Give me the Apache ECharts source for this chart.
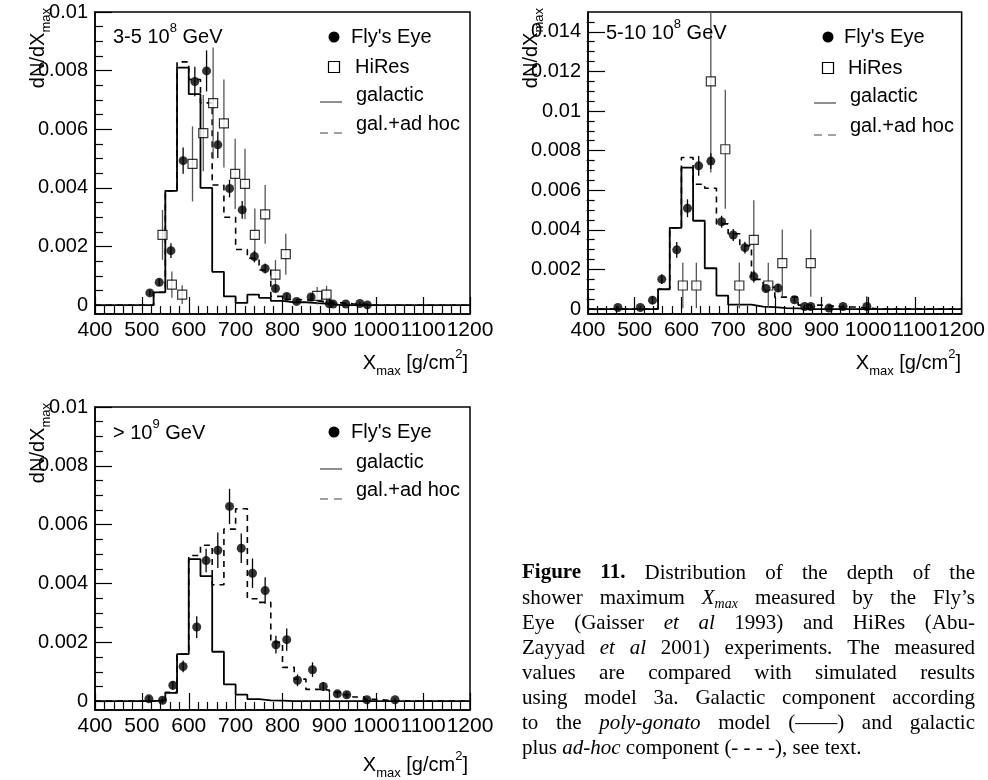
<!DOCTYPE html>
<html>
<head>
<meta charset="utf-8">
<script src="https://cdn.jsdelivr.net/npm/echarts@6/dist/echarts.min.js"></script>
<style>
  html, body { margin: 0; padding: 0; background: #fff; }
  #chart { width: 988px; height: 780px; }
</style>
</head>
<body>
<div id="chart"></div>
<script>
// ---- Simulated Xmax histograms: lower bin edges (g/cm^2), 25 g/cm^2 wide ----
const binEdges = [400, 425, 450, 475, 500, 525, 550, 575, 600, 625, 650, 675, 700, 725, 750, 775,
                  800, 825, 850, 875, 900, 925, 950, 975, 1000, 1025, 1050, 1075, 1100, 1125, 1150, 1175];
const binUpper = 1200;

// 3-5 10^8 GeV
const p1Galactic = [0, 0, 0, 0, 0, 0.00044, 0.0039, 0.0081, 0.0072, 0.004, 0.00114, 0.0003, 0.00008, 0.00036, 0.00025, 0.00015,
                    0.0001, 0.0001, 0.00007, 0.00005, 0, 0, 0, 0, 0, 0, 0, 0, 0, 0, 0, 0];
const p1AdHoc    = [0, 0, 0, 0, 0, 0.00044, 0.0039, 0.0083, 0.0077, 0.0069, 0.0041, 0.003, 0.0019, 0.0016, 0.0012, 0.0003,
                    0.0002, 0.00018, 0.00015, 0.0001, 0.00008, 0.00005, 0.00003, 0, 0, 0, 0, 0, 0, 0, 0, 0];
const p1FlyX   = [517, 537, 562, 588, 613, 638, 662, 687, 714, 740, 763, 785, 809, 830, 861, 900, 908, 935, 965, 981];
const p1FlyY   = [0.00042, 0.00078, 0.00186, 0.00493, 0.00763, 0.00799, 0.00547, 0.00398, 0.00325, 0.00166,
                  0.00125, 0.00057, 0.0003, 0.00013, 0.00028, 0.00005, 0.00004, 0.00004, 0.00006, 0.00001];
const p1FlyErr = [0.0001, 0.00012, 0.00025, 0.00045, 0.0005, 0.0007, 0.00045, 0.0003, 0.0003, 0.0002,
                  0.00017, 0.00012, 0.0001, 0.00006, 0.0001, 0.00005, 0.00005, 0.00005, 0.00005, 0.00003];
const p1HiResX   = [544, 564, 586, 608, 631, 652, 675, 699, 720, 741, 763, 785, 807, 874, 894];
const p1HiResY   = [0.0024, 0.0007, 0.00036, 0.00482, 0.00587, 0.00689, 0.0062, 0.00448, 0.00414, 0.0024,
                    0.0031, 0.00104, 0.00174, 0.00032, 0.00036];
const p1HiResErr = [0.00085, 0.00045, 0.00032, 0.00128, 0.0013, 0.0019, 0.0015, 0.0012, 0.0012, 0.0009,
                    0.001, 0.0005, 0.0007, 0.0003, 0.0003];

// 5-10 10^8 GeV
const p2Galactic = [0, 0, 0, 0, 0, 0, 0.001, 0.0041, 0.00714, 0.00446, 0.00206, 0.00068, 0.00022, 0.00022, 0.00012, 0.0001,
                    0.00005, 0.00003, 0, 0, 0, 0, 0, 0, 0, 0, 0, 0, 0, 0, 0, 0];
const p2AdHoc    = [0, 0, 0, 0, 0, 0, 0.001, 0.0041, 0.00765, 0.0063, 0.0061, 0.0043, 0.0038, 0.0032, 0.0015, 0.0011,
                    0.0006, 0.0006, 0.0002, 0.0002, 0.00015, 0.0001, 0.0001, 0.00005, 0, 0, 0, 0, 0, 0, 0, 0];
const p2FlyX   = [464, 512, 538, 558, 590, 613, 637, 663, 686, 711, 736, 755, 781, 807, 842, 864, 877, 916, 946, 997];
const p2FlyY   = [0.00008, 0.00008, 0.00045, 0.00151, 0.00299, 0.00509, 0.00723, 0.00747, 0.00441, 0.00374,
                  0.0031, 0.00164, 0.00104, 0.00106, 0.00047, 0.00013, 0.00013, 0.00005, 0.00013, 0.00013];
const p2FlyErr = [0.00008, 0.0001, 0.0002, 0.00025, 0.0004, 0.00045, 0.0005, 0.0004, 0.0003, 0.0003,
                  0.0003, 0.0003, 0.0002, 0.0002, 0.00015, 0.0001, 0.0001, 0.00005, 0.0001, 0.0005];
const p2HiResX   = [603, 632, 663, 694, 724, 755, 786, 816, 877];
const p2HiResY   = [0.00119, 0.00119, 0.0115, 0.00807, 0.00119, 0.00349, 0.00119, 0.00232, 0.00232];
const p2HiResErr = [0.00115, 0.00115, 0.0046, 0.003, 0.00115, 0.002, 0.00115, 0.0017, 0.0017];

// > 10^9 GeV
const p3Galactic = [0, 0, 0, 0, 0, 0.00003, 0.00028, 0.0016, 0.00483, 0.00425, 0.00168, 0.00057, 0.00022, 0.00007, 0.00003, 0.00002,
                    0, 0, 0, 0, 0, 0, 0, 0, 0, 0, 0, 0, 0, 0, 0, 0];
const p3AdHoc    = [0, 0, 0, 0, 0, 0.00003, 0.0003, 0.0016, 0.00495, 0.0053, 0.00396, 0.00585, 0.00654, 0.00348, 0.00336, 0.002,
                    0.00115, 0.00075, 0.0004, 0.00038, 0.0003, 0.00022, 0.00014, 0.00006, 0.00003, 0, 0, 0, 0, 0, 0, 0];
const p3FlyX   = [515, 544, 566, 588, 617, 637, 662, 687, 712, 736, 763, 786, 809, 832, 864, 887, 917, 937, 980, 1040];
const p3FlyY   = [0.00008, 0.00003, 0.00054, 0.00118, 0.00252, 0.00478, 0.00513, 0.00662, 0.0052, 0.00435,
                  0.00376, 0.00192, 0.00209, 0.00071, 0.00107, 0.0005, 0.00025, 0.00022, 0.00005, 0.00005];
const p3FlyErr = [0.0001, 0.0001, 0.00015, 0.0002, 0.00037, 0.0004, 0.0006, 0.0006, 0.0005, 0.0005,
                  0.00045, 0.0003, 0.00038, 0.0002, 0.00025, 0.00015, 0.0001, 0.0001, 0.00005, 0.00005];

// Axis tick labels
const yTicksLow  = [0, 0.002, 0.004, 0.006, 0.008, 0.01];
const yTicksHigh = [0, 0.002, 0.004, 0.006, 0.008, 0.01, 0.012, 0.014];

// ---- Layout & styling ----
const SANS = '"Liberation Sans", Arial, Helvetica, sans-serif';
const SERIF = '"Liberation Serif", "Times New Roman", serif';
const FS = 20;

const panels = [
  { grid: { left: 95, top: 12, width: 375, height: 302 }, yMin: -0.0003, yMax: 0.01, yTicks: yTicksLow,
    gal: p1Galactic, adhoc: p1AdHoc, fly: [p1FlyX, p1FlyY, p1FlyErr], hires: [p1HiResX, p1HiResY, p1HiResErr] },
  { grid: { left: 588, top: 12, width: 375, height: 302 }, yMin: -0.00025, yMax: 0.015, yTicks: yTicksHigh,
    gal: p2Galactic, adhoc: p2AdHoc, fly: [p2FlyX, p2FlyY, p2FlyErr], hires: [p2HiResX, p2HiResY, p2HiResErr] },
  { grid: { left: 95, top: 407, width: 375, height: 303 }, yMin: -0.0003, yMax: 0.01, yTicks: yTicksLow,
    gal: p3Galactic, adhoc: p3AdHoc, fly: [p3FlyX, p3FlyY, p3FlyErr], hires: null }
];

function histData(vals) {
  const d = binEdges.map((e, i) => [e, vals[i]]);
  d.push([binUpper, vals[vals.length - 1]]);
  return d;
}
function fmtY(v) { return Math.abs(v) < 1e-12 ? '0' : String(parseFloat(v.toFixed(4))); }

function errorBars(xs, ys, es, color, xi, yi) {
  return {
    type: 'custom', xAxisIndex: xi, yAxisIndex: yi, z: 3, silent: true,
    data: xs.map((x, k) => [x, ys[k], es[k]]),
    encode: { x: 0, y: 1 },
    renderItem: function (params, api) {
      const x = api.value(0), y = api.value(1), e = api.value(2);
      const lo = api.coord([x, y - e]);
      const hi = api.coord([x, y + e]);
      const cs = params.coordSys;
      const top = Math.max(cs.y, hi[1]);
      const bot = Math.min(cs.y + cs.height, lo[1]);
      return { type: 'line', shape: { x1: lo[0], y1: bot, x2: lo[0], y2: top },
               style: { stroke: color, lineWidth: 1.3 } };
    }
  };
}

const grids = [], xAxes = [], yAxes = [], series = [];
panels.forEach((p, i) => {
  grids.push(Object.assign({ show: true, borderColor: '#000', borderWidth: 1.5, backgroundColor: 'transparent' }, p.grid));
  xAxes.push({
    gridIndex: i, type: 'value', min: 400, max: 1200, interval: 100,
    axisLine: { onZero: false, lineStyle: { color: '#000', width: 1.5 } },
    axisTick: { inside: true, length: 17, lineStyle: { color: '#000', width: 1.2 } },
    minorTick: { show: true, splitNumber: 5, length: 8, lineStyle: { color: '#000', width: 1.2 } },
    axisLabel: { color: '#000', fontFamily: SANS, fontSize: 21, margin: 6, showMinLabel: true, showMaxLabel: true,
                 hideOverlap: false, formatter: v => String(v) },
    splitLine: { show: false }
  });
  const minors = [];
  for (let v = 0.0005; v < p.yMax - 1e-9; v += 0.0005) {
    if (Math.abs(v / 0.002 - Math.round(v / 0.002)) > 1e-6) minors.push(+v.toFixed(4));
  }
  yAxes.push({
    gridIndex: i, type: 'value', min: p.yMin, max: p.yMax, position: 'left',
    axisLine: { onZero: false, lineStyle: { color: '#000', width: 1.5 } },
    axisTick: { inside: true, length: 17, customValues: p.yTicks, lineStyle: { color: '#000', width: 1.2 } },
    axisLabel: { customValues: p.yTicks, formatter: fmtY, color: '#000', fontFamily: SANS, fontSize: FS, margin: 7 },
    splitLine: { show: false }
  });
  yAxes.push({
    gridIndex: i, type: 'value', min: p.yMin, max: p.yMax, position: 'right', offset: -p.grid.width,
    axisLine: { show: false, onZero: false },
    axisTick: { inside: false, length: 8, customValues: minors, lineStyle: { color: '#000', width: 1.2 } },
    axisLabel: { show: false },
    splitLine: { show: false }
  });
  const yi = 2 * i;
  series.push({ type: 'line', xAxisIndex: i, yAxisIndex: yi, step: 'end', symbol: 'none', z: 2, silent: true,
                data: histData(p.adhoc), lineStyle: { color: '#000', width: 1.6, type: [6, 5] } });
  series.push({ type: 'line', xAxisIndex: i, yAxisIndex: yi, step: 'end', symbol: 'none', z: 2, silent: true,
                data: histData(p.gal), lineStyle: { color: '#000', width: 1.8 } });
  if (p.hires) {
    series.push(errorBars(p.hires[0], p.hires[1], p.hires[2], '#555', i, yi));
    series.push({ type: 'scatter', xAxisIndex: i, yAxisIndex: yi, z: 5, symbol: 'rect', symbolSize: 9,
                  data: p.hires[0].map((x, k) => [x, p.hires[1][k]]),
                  itemStyle: { color: '#fff', borderColor: '#000', borderWidth: 1.2 } });
  }
  series.push(errorBars(p.fly[0], p.fly[1], p.fly[2], '#000', i, yi));
  series.push({ type: 'scatter', xAxisIndex: i, yAxisIndex: yi, z: 6, symbol: 'circle', symbolSize: 9,
                data: p.fly[0].map((x, k) => [x, p.fly[1][k]]), itemStyle: { color: '#000' } });
});

// ---- Text decorations: titles, panel labels, legends, caption ----
const RICH = {
  t:   { fontSize: FS, fontFamily: SANS, lineHeight: 30, fill: '#000' },
  sub: { fontSize: 13, fontFamily: SANS, lineHeight: 13, verticalAlign: 'bottom', fill: '#000' },
  sup: { fontSize: 13, fontFamily: SANS, lineHeight: 13, verticalAlign: 'top', fill: '#000' }
};
function richText(x, y, text, align, rotation) {
  return { type: 'text', x: x, y: y, rotation: rotation || 0, silent: true, z: 10,
           style: { text: text, rich: RICH, align: align, verticalAlign: 'middle', fill: '#000' } };
}
function plainText(x, y, text) {
  return { type: 'text', x: x, y: y, silent: true, z: 10,
           style: { text: text, fontSize: FS, fontFamily: SANS, fill: '#000', align: 'left', verticalAlign: 'middle' } };
}

const elements = [];
const titlePos = [
  { yt: [38, 8], xt: [468, 363], label: [113, 37, '{t|3-5 10}{sup|8}{t| GeV}'] },
  { yt: [531, 8], xt: [961, 363], label: [606, 33, '{t|5-10 10}{sup|8}{t| GeV}'] },
  { yt: [38, 403], xt: [468, 765], label: [113, 433, '{t|> 10}{sup|9}{t| GeV}'] }
];
titlePos.forEach(tp => {
  elements.push(richText(tp.yt[0], tp.yt[1], '{t|dN/dX}{sub|max}', 'right', Math.PI / 2));
  elements.push(richText(tp.xt[0], tp.xt[1], '{t|X}{sub|max}{t| [g/cm}{sup|2}{t|]}', 'right'));
  elements.push(richText(tp.label[0], tp.label[1], tp.label[2], 'left'));
});

// Legends
const legends = [
  { mx: 334, rows: [['fly', 37, 351, "Fly's Eye"], ['hires', 67, 355, 'HiRes'], ['gal', 95, 356, 'galactic'], ['adhoc', 124, 356, 'gal.+ad hoc']] },
  { mx: 828, rows: [['fly', 37, 844, "Fly's Eye"], ['hires', 68, 848, 'HiRes'], ['gal', 96, 850, 'galactic'], ['adhoc', 126, 850, 'gal.+ad hoc']] },
  { mx: 334, rows: [['fly', 432, 351, "Fly's Eye"], ['gal', 462, 356, 'galactic'], ['adhoc', 490, 356, 'gal.+ad hoc']] }
];
legends.forEach(lg => {
  lg.rows.forEach(([kind, y, tx, label]) => {
    if (kind === 'fly') {
      elements.push({ type: 'circle', silent: true, z: 10, shape: { cx: lg.mx, cy: y, r: 5.5 }, style: { fill: '#000' } });
    } else if (kind === 'hires') {
      elements.push({ type: 'rect', silent: true, z: 10, shape: { x: lg.mx - 5.5, y: y - 5.5, width: 11, height: 11 },
                      style: { fill: '#fff', stroke: '#000', lineWidth: 1.2 } });
    } else if (kind === 'gal') {
      elements.push({ type: 'line', silent: true, z: 10, shape: { x1: lg.mx - 14, y1: y + 7, x2: lg.mx + 8, y2: y + 7 },
                      style: { stroke: '#444', lineWidth: 1.2 } });
    } else {
      elements.push({ type: 'line', silent: true, z: 10, shape: { x1: lg.mx - 14, y1: y + 9, x2: lg.mx + 8, y2: y + 9 },
                      style: { stroke: '#444', lineWidth: 1.2, lineDash: [8, 6] } });
    }
    elements.push(plainText(tx, y, label));
  });
});

// Caption, justified word by word
const CAP_L = 522, CAP_R = 975, CAP_TOP = 573, CAP_LEAD = 25, CAP_SIZE = 21, CAP_SUB = 14;
const captionRows = [
  '{b|Figure} {b|11.} Distribution of the depth of the',
  'shower maximum {i|X}{s|max} measured by the Fly\u2019s',
  'Eye (Gaisser {i|et} {i|al} 1993) and HiRes (Abu-',
  'Zayyad {i|et} {i|al} 2001) experiments. The measured',
  'values are compared with simulated results',
  'using model 3a. Galactic component according',
  'to the {i|poly-gonato} model (\u2014\u2014) and galactic',
  'plus {i|ad-hoc} component (- - - -), see text.'
];
const mctx = document.createElement('canvas').getContext('2d');
function pieceStyle(st) {
  return {
    fontSize: st === 's' ? CAP_SUB : CAP_SIZE,
    fontStyle: (st === 'i' || st === 's') ? 'italic' : 'normal',
    fontWeight: st === 'b' ? 'bold' : 'normal'
  };
}
function measure(st, t) {
  const s = pieceStyle(st);
  mctx.font = s.fontStyle + ' ' + s.fontWeight + ' ' + s.fontSize + 'px ' + SERIF;
  return mctx.measureText(t).width;
}
function parseWord(w) {
  const pieces = [];
  const re = /\{(\w)\|([^}]*)\}|([^{]+)/g;
  let m;
  while ((m = re.exec(w))) pieces.push(m[1] ? [m[1], m[2]] : ['r', m[3]]);
  return pieces;
}
captionRows.forEach((row, li) => {
  const words = row.split(' ').map(parseWord);
  const widths = words.map(ps => ps.reduce((s, pc) => s + measure(pc[0], pc[1]), 0));
  const total = widths.reduce((a, b) => a + b, 0);
  const last = li === captionRows.length - 1;
  const gap = last ? measure('r', ' ') : (CAP_R - CAP_L - total) / (words.length - 1);
  const yc = CAP_TOP + li * CAP_LEAD;
  let x = CAP_L;
  words.forEach(ps => {
    ps.forEach(([st, t]) => {
      const s = pieceStyle(st);
      elements.push({ type: 'text', x: x, y: yc + (st === 's' ? 6 : 0), silent: true, z: 10,
        style: { text: t, fontSize: s.fontSize, fontStyle: s.fontStyle, fontWeight: s.fontWeight,
                 fontFamily: SERIF, fill: '#000', align: 'left', verticalAlign: 'middle' } });
      x += measure(st, t);
    });
    x += gap;
  });
});

const chart = echarts.init(document.getElementById('chart'), null, { renderer: 'canvas' });
chart.setOption({
  animation: false,
  backgroundColor: '#fff',
  grid: grids,
  xAxis: xAxes,
  yAxis: yAxes,
  series: series,
  graphic: { elements: elements }
});
</script>
</body>
</html>
